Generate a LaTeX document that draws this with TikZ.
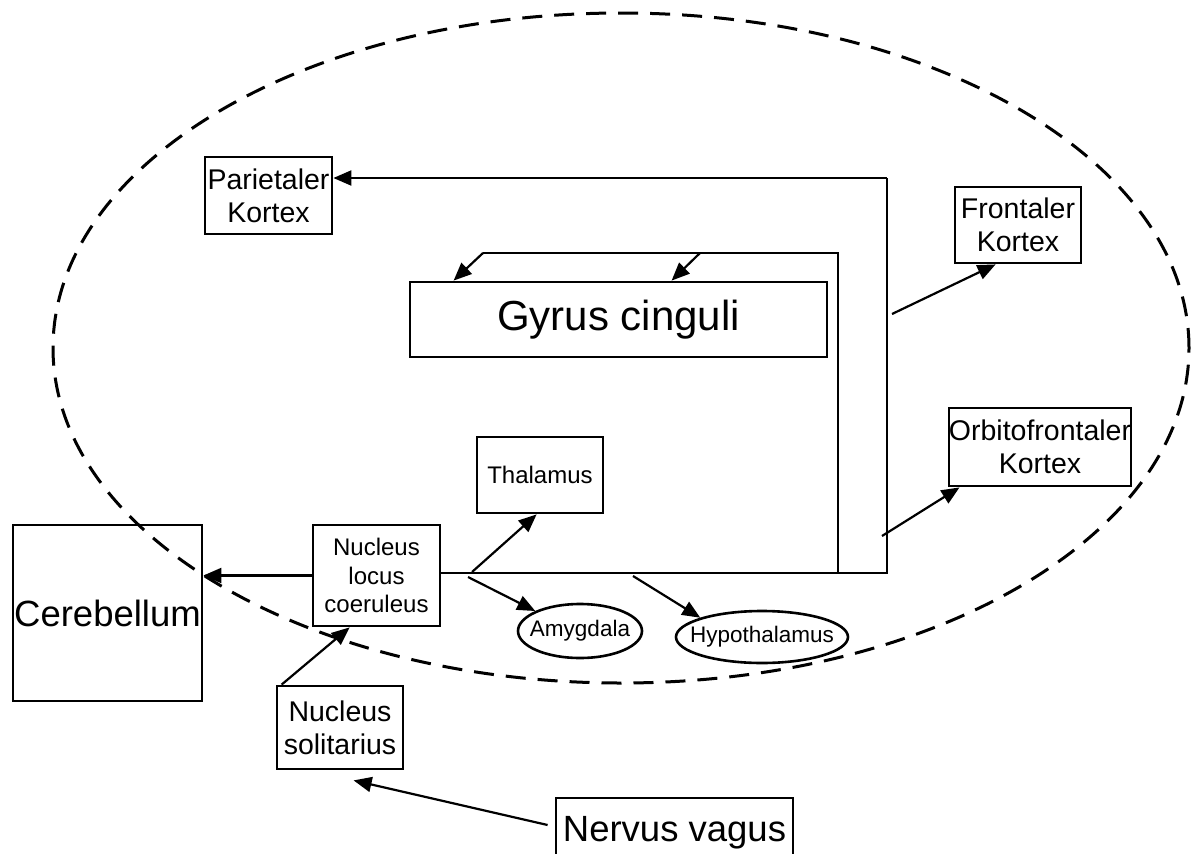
\documentclass[tikz,border=0pt]{standalone}
\usepackage{fontspec}
\setmainfont{Liberation Sans}
\usetikzlibrary{shapes.geometric,arrows.meta}
\begin{document}
\begin{tikzpicture}[x=1pt,y=-1pt,
  box/.style={draw,line width=2.8pt,inner sep=0pt,align=center,rectangle},
  oval/.style={draw,line width=2.6pt,inner sep=0pt,ellipse},
  conn/.style={line width=2.2pt},
  arr/.style={line width=2.2pt,-{Triangle[length=18pt,width=15pt]}},
  brainline/.style={draw,ellipse,line width=3pt,dash pattern=on 20pt off 12pt,inner sep=0pt},
  fsmall/.style={font=\fontsize{22.5}{27}\selectfont},
  fmid/.style={font=\fontsize{24}{28.5}\selectfont},
  fnorm/.style={font=\fontsize{28.5}{33}\selectfont},
  fbig/.style={font=\fontsize{36.5}{42}\selectfont},
  fhuge/.style={font=\fontsize{42}{46}\selectfont}]
\clip (0,0) rectangle (1194,854);
\useasboundingbox (0,0) rectangle (1194,854);

% dashed outline
\node[brainline,minimum width=1136pt,minimum height=670pt] (brain) at (621,348) {};

% boxes
\node[box,fnorm,minimum width=127pt,minimum height=77pt] (par) at (268.5,195.5) {Parietaler\\Kortex};
\node[box,fnorm,minimum width=126pt,minimum height=76pt] (fro) at (1018,225) {Frontaler\\Kortex};
\node[box,fnorm,minimum width=180pt,minimum height=78pt] (orb) at (1040,447) {Orbitofrontaler\\Kortex};
\node[box,fhuge,minimum width=417pt,minimum height=75pt] (gyr) at (618.5,319.5) {Gyrus cinguli};
\node[box,fmid,minimum width=126pt,minimum height=76pt] (tha) at (540,475) {Thalamus};
\node[box,fmid,minimum width=127pt,minimum height=101pt] (nlc) at (376.5,575.5) {Nucleus\\locus\\coeruleus};
\node[box,fbig,minimum width=189pt,minimum height=176pt] (cer) at (107.5,613) {Cerebellum};
\node[box,fnorm,minimum width=126pt,minimum height=83pt] (ns) at (340,727.5) {Nucleus\\solitarius};
\node[box,fbig,minimum width=237pt,minimum height=70pt] (nv) at (674.5,833) {Nervus vagus};
\node[oval,fsmall,minimum width=124pt,minimum height=54pt] (amy) at (580,631) {\makebox[0pt]{Amygdala}};
\node[oval,fsmall,minimum width=172pt,minimum height=52pt] (hyp) at (762,637) {\makebox[0pt]{Hypothalamus}};

% routing coordinates
\coordinate (cR) at (887,573);
\coordinate (cRt) at (887,178);
\coordinate (cI) at (838,573);
\coordinate (cIt) at (838,253);
\coordinate (gL) at (483,253);
\coordinate (gM) at (700,253);
\coordinate (fS) at (892,314);
\coordinate (oS) at (882,536);
\coordinate (tS) at (472,572);
\coordinate (aS) at (468,577);
\coordinate (hS) at (633,576);

% main trunk
\draw[conn] (nlc.east |- cR) -- (cR) -- (cRt);
\draw[arr] (cRt) -- (par.east |- cRt);
\draw[conn] (cI) -- (cIt) -- (gL);
\draw[arr] (gL) -- ([xshift=45pt]gyr.north west);
\draw[arr] (gM) -- ([xshift=263pt]gyr.north west);
\draw[arr] (fS) -- ([xshift=42pt]fro.south west);
\draw[arr] (oS) -- ([xshift=12pt]orb.south west);
\draw[arr] (tS) -- ([xshift=61pt]tha.south west);
\draw[arr] (aS) -- (amy.north west);
\draw[arr] (hS) -- (hyp.north west);
\draw[arr] (nlc.west) -- (nlc.west -| cer.east);
\draw[arr] ([xshift=6pt]ns.north west) -- ([xshift=38pt]nlc.south west);
\draw[arr] ([xshift=-7pt,yshift=8pt]nv.west) -- ([xshift=78pt,yshift=-10pt]ns.south west);
\end{tikzpicture}
\end{document}
